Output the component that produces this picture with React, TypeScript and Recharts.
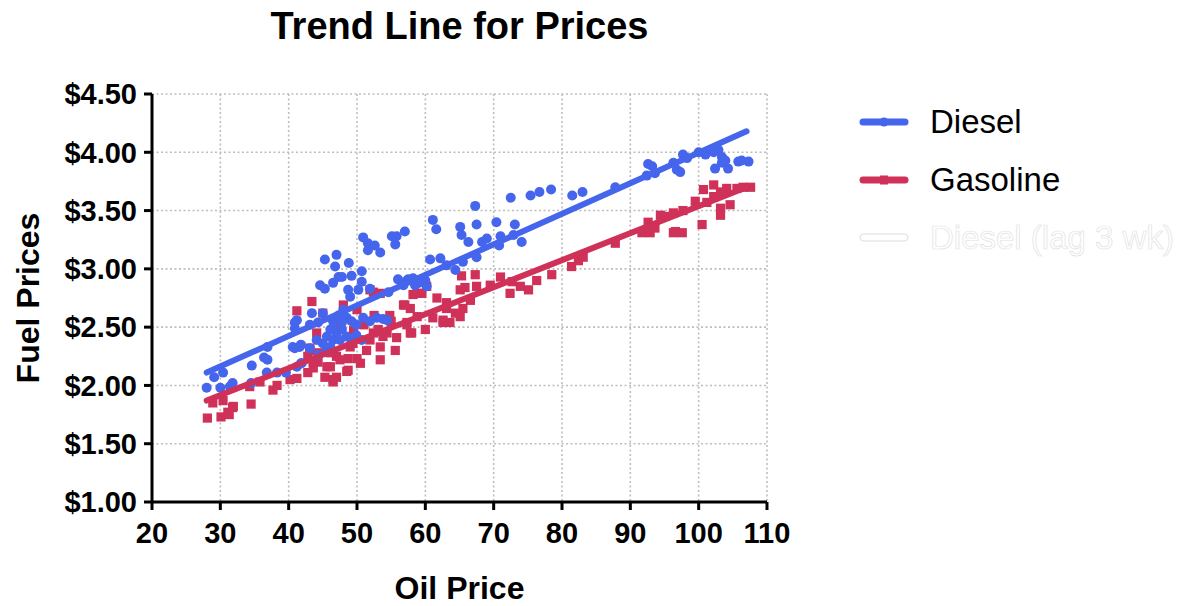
import React from 'react';
import { ScatterChart, Scatter, XAxis, YAxis, CartesianGrid, Legend } from 'recharts';

// oil price, diesel price
const DIESEL: [number, number][] = [
  [28.0, 1.98], [30.0, 1.98], [31.4, 1.99], [31.8, 2.02], [29.1, 2.07], [30.4, 2.11], [34.5, 2.02],
  [34.6, 2.17], [36.8, 2.11], [36.9, 2.22], [36.4, 2.24], [36.9, 2.33], [38.3, 2.11], [39.6, 2.11],
  [41.2, 2.16], [41.8, 2.19], [40.9, 2.32], [41.8, 2.35], [44.3, 2.26], [45.5, 2.29], [40.9, 2.54],
  [47.0, 3.12], [46.8, 3.02], [48.8, 3.05], [44.6, 2.86], [45.3, 2.83], [46.5, 2.88], [47.3, 2.93],
  [47.8, 2.93], [49.2, 2.94], [50.7, 2.98], [48.7, 2.82], [49.0, 2.76], [50.2, 2.82], [51.6, 3.22],
  [52.6, 3.2], [53.4, 3.14], [55.6, 3.21], [50.7, 2.89], [51.9, 2.83], [54.6, 2.8], [56.0, 2.91],
  [57.5, 2.91], [58.5, 2.86], [43.4, 2.62], [45.0, 2.62], [41.2, 2.56], [40.9, 2.49], [43.1, 2.52],
  [44.3, 2.54], [46.5, 2.55], [47.3, 2.6], [48.0, 2.65], [48.5, 2.58], [49.2, 2.55], [49.9, 2.52],
  [50.9, 2.58], [51.9, 2.55], [52.9, 2.58], [53.8, 2.57], [54.4, 2.56], [46.1, 2.48], [47.0, 2.45],
  [47.8, 2.48], [45.6, 2.42], [46.5, 2.39], [47.5, 2.39], [48.5, 2.42], [49.2, 2.39], [49.9, 2.43],
  [50.7, 2.39], [45.0, 2.36], [46.1, 2.33], [44.1, 2.39], [43.1, 2.32], [40.6, 2.33], [41.6, 2.33],
  [41.9, 2.19], [47.8, 2.54], [46.5, 2.49], [45.3, 3.08], [50.9, 3.27], [51.6, 3.16], [55.1, 3.28],
  [55.8, 3.28], [57.0, 3.32], [61.1, 3.42], [61.6, 3.34], [67.3, 3.54], [65.1, 3.36], [67.5, 3.38],
  [70.4, 3.4], [73.1, 3.38], [72.5, 3.61], [75.4, 3.63], [76.7, 3.66], [78.4, 3.68], [65.3, 3.29],
  [66.3, 3.23], [68.3, 3.23], [69.0, 3.26], [70.8, 3.2], [71.0, 3.28], [74.1, 3.23], [72.9, 3.29],
  [60.7, 3.08], [62.2, 3.09], [63.1, 3.03], [64.4, 2.99], [65.5, 3.06], [67.5, 3.1], [57.3, 2.9],
  [58.2, 2.92], [60.0, 2.9], [60.2, 2.85], [56.8, 2.86], [59.0, 2.88], [81.5, 3.63], [83.0, 3.66],
  [87.8, 3.7], [92.6, 3.9], [93.2, 3.88], [92.4, 3.8], [93.6, 3.82], [96.3, 3.91], [96.8, 3.85],
  [97.7, 3.98], [98.3, 3.95], [97.3, 3.83], [100.0, 4.0], [101.0, 3.98], [102.2, 4.0], [102.9, 4.02],
  [103.4, 3.96], [102.4, 3.86], [103.4, 3.91], [104.3, 3.86], [103.9, 3.93], [105.8, 3.92],
  [107.3, 3.92], [106.3, 3.93],
];

// oil price, gasoline price
const GASOLINE: [number, number][] = [
  [28.1, 1.72], [30.1, 1.73], [31.3, 1.75], [31.8, 1.81], [34.5, 1.84], [28.9, 1.85], [30.4, 1.87],
  [34.3, 1.99], [35.8, 2.03], [37.7, 1.96], [38.3, 2.0], [40.2, 2.05], [41.2, 2.06], [42.8, 2.11],
  [43.6, 2.15], [45.3, 2.07], [46.5, 2.05], [44.3, 2.2], [43.1, 2.32], [45.6, 2.16], [31.1, 1.77],
  [31.9, 1.82], [41.2, 2.64], [43.4, 2.72], [45.0, 2.62], [44.1, 2.45], [42.8, 2.25], [46.5, 2.03],
  [47.0, 2.07], [48.7, 2.13], [50.5, 2.19], [53.4, 2.22], [55.8, 2.41], [55.6, 2.3], [57.8, 2.45],
  [60.0, 2.48], [61.7, 2.75], [63.1, 2.71], [62.6, 2.54], [58.8, 2.79], [60.2, 2.85], [56.8, 2.69],
  [57.8, 2.66], [51.9, 2.82], [48.0, 2.69], [50.0, 2.65], [52.4, 2.45], [49.0, 2.33], [51.4, 2.3],
  [47.0, 2.25], [50.0, 2.23], [53.4, 2.33], [54.4, 2.45], [46.1, 2.16], [44.3, 2.28], [52.4, 2.8],
  [53.4, 2.79], [57.0, 2.69], [54.8, 2.6], [53.1, 2.48], [53.8, 2.42], [51.9, 2.39], [49.4, 2.36],
  [48.7, 2.23], [46.1, 2.28], [47.5, 2.22], [48.5, 2.12], [43.6, 2.2], [43.1, 2.3], [57.3, 2.54],
  [58.2, 2.78], [58.8, 2.59], [47.5, 2.5], [49.5, 2.47], [51.0, 2.52], [52.5, 2.6], [55.0, 2.55],
  [67.3, 2.95], [65.3, 2.94], [65.8, 2.84], [67.5, 2.85], [69.5, 2.86], [71.0, 2.93], [72.7, 2.89],
  [73.9, 2.85], [75.1, 2.82], [76.3, 2.9], [78.5, 2.95], [72.4, 2.79], [65.1, 2.82], [63.1, 2.66],
  [64.4, 2.62], [65.5, 2.66], [66.6, 2.73], [61.1, 2.58], [62.6, 2.56], [63.6, 2.54], [65.1, 2.59],
  [57.3, 2.52], [58.0, 2.45], [59.5, 2.79], [81.4, 3.02], [82.4, 3.07], [83.1, 3.1], [87.8, 3.22],
  [91.7, 3.31], [92.6, 3.4], [92.9, 3.31], [93.6, 3.35], [94.4, 3.46], [95.1, 3.45], [96.3, 3.48],
  [97.7, 3.5], [96.6, 3.32], [97.6, 3.31], [96.3, 3.31], [99.5, 3.58], [100.5, 3.38], [100.7, 3.68],
  [102.2, 3.72], [102.2, 3.62], [103.2, 3.66], [104.1, 3.69], [103.2, 3.52], [103.2, 3.46],
  [104.6, 3.55], [105.6, 3.69], [106.5, 3.7], [107.6, 3.7], [101.2, 3.57],
];

// trend line end points
const DIESEL_TREND: [number, number][] = [[28, 2.11], [107, 4.18]];
const GASOLINE_TREND: [number, number][] = [[28, 1.87], [107, 3.7]];

const X_TICKS = [20, 30, 40, 50, 60, 70, 80, 90, 100, 110];
const Y_TICKS = [1, 1.5, 2, 2.5, 3, 3.5, 4, 4.5];

const SERIES = ['Diesel', 'Gasoline', 'Diesel (lag 3 wk)'];

const BLUE = '#4565EC';
const RED = '#CF3159';
const FONT = '"Liberation Sans", Arial, Helvetica, sans-serif';

const toPts = (arr: [number, number][]) => arr.map(([x, y]) => ({ x, y }));

const tickStyle = { fontSize: 29, fontWeight: 700, fill: '#000', fontFamily: FONT };

const LegendBox = () => (
  <div style={{ fontFamily: FONT, fontSize: 33 }}>
    {SERIES.map((name, i) => {
      const ghost = i === 2;
      const color = i === 0 ? BLUE : RED;
      return (
        <div key={name} style={{ display: 'flex', alignItems: 'center', height: 58 }}>
          <svg width={52} height={14}>
            {ghost ? (
              <rect x={2} y={3} width={48} height={7} rx={3.5} fill="#fff" stroke="#ddd" strokeWidth={1} />
            ) : (
              <>
                <line x1={5} y1={7} x2={47} y2={7} stroke={color} strokeWidth={7} strokeLinecap="round" />
                {i === 0 ? (
                  <circle cx={26} cy={7} r={4.5} fill={color} />
                ) : (
                  <rect x={22} y={2.5} width={8} height={9} fill={color} />
                )}
              </>
            )}
          </svg>
          <span
            style={{
              marginLeft: 20,
              color: ghost ? '#fff' : '#000',
              WebkitTextStroke: ghost ? '0.7px #e2e2e2' : undefined,
              whiteSpace: 'nowrap',
            }}
          >
            {name}
          </span>
        </div>
      );
    })}
  </div>
);

const Empty = () => <g />;
const Circle = (p: any) => <circle cx={p.cx} cy={p.cy} r={5} fill={BLUE} />;
const Square = (p: any) => <rect x={p.cx - 4.6} y={p.cy - 4.6} width={9.2} height={9.2} fill={RED} />;

export default function App() {
  return (
    <div style={{ position: 'absolute', left: 0, top: 0, width: 1186, height: 606, background: '#fff' }}>
      <div
        style={{
          position: 'absolute',
          left: 152,
          width: 615,
          top: 7,
          textAlign: 'center',
          fontFamily: FONT,
          fontWeight: 700,
          fontSize: 38,
          lineHeight: '38px',
          zIndex: 1,
        }}
      >
        Trend Line for Prices
      </div>
      <ScatterChart width={1186} height={606} margin={{ top: 94, right: 419, bottom: 0, left: 0 }}>
        <CartesianGrid stroke="#bdbdbd" strokeWidth={1.6} strokeDasharray="2 2.5" />
        <XAxis
          type="number"
          dataKey="x"
          domain={[20, 110]}
          ticks={X_TICKS}
          interval={0}
          height={104}
          tickSize={8}
          tickMargin={12}
          axisLine={{ stroke: '#000', strokeWidth: 3 }}
          tickLine={{ stroke: '#000', strokeWidth: 3 }}
          tick={tickStyle}
          label={{
            content: ({ viewBox }: any) => (
              <text
                x={viewBox.x + viewBox.width / 2}
                y={viewBox.y + 86}
                textAnchor="middle"
                dominantBaseline="central"
                style={{ fontSize: 32, fontWeight: 700, fontFamily: FONT }}
              >
                Oil Price
              </text>
            ),
          }}
        />
        <YAxis
          type="number"
          dataKey="y"
          domain={[1, 4.5]}
          ticks={Y_TICKS}
          interval={0}
          width={152}
          tickSize={8}
          tickMargin={7}
          axisLine={{ stroke: '#000', strokeWidth: 3 }}
          tickLine={{ stroke: '#000', strokeWidth: 3 }}
          tick={tickStyle}
          tickFormatter={(v: number) => `$${v.toFixed(2)}`}
          label={{
            content: ({ viewBox }: any) => {
              const cx = viewBox.x + 28;
              const cy = viewBox.y + viewBox.height / 2;
              return (
                <text
                  x={cx}
                  y={cy}
                  transform={`rotate(-90 ${cx} ${cy})`}
                  textAnchor="middle"
                  dominantBaseline="central"
                  style={{ fontSize: 32, fontWeight: 700, fontFamily: FONT }}
                >
                  Fuel Prices
                </text>
              );
            },
          }}
        />
        <Legend
          layout="vertical"
          align="center"
          verticalAlign="middle"
          wrapperStyle={{ left: 858, top: 93 }}
          content={() => <LegendBox />}
        />
        <Scatter name="Gasoline" data={toPts(GASOLINE)} fill={RED} shape={Square} isAnimationActive={false} />
        <Scatter name="Diesel" data={toPts(DIESEL)} fill={BLUE} shape={Circle} isAnimationActive={false} />
        <Scatter
          name="Gasoline trend"
          data={toPts(GASOLINE_TREND)}
          line={{ stroke: RED, strokeWidth: 6, strokeLinecap: 'round' }}
          shape={Empty}
          isAnimationActive={false}
        />
        <Scatter
          name="Diesel trend"
          data={toPts(DIESEL_TREND)}
          line={{ stroke: BLUE, strokeWidth: 6, strokeLinecap: 'round' }}
          shape={Empty}
          isAnimationActive={false}
        />
      </ScatterChart>
    </div>
  );
}
